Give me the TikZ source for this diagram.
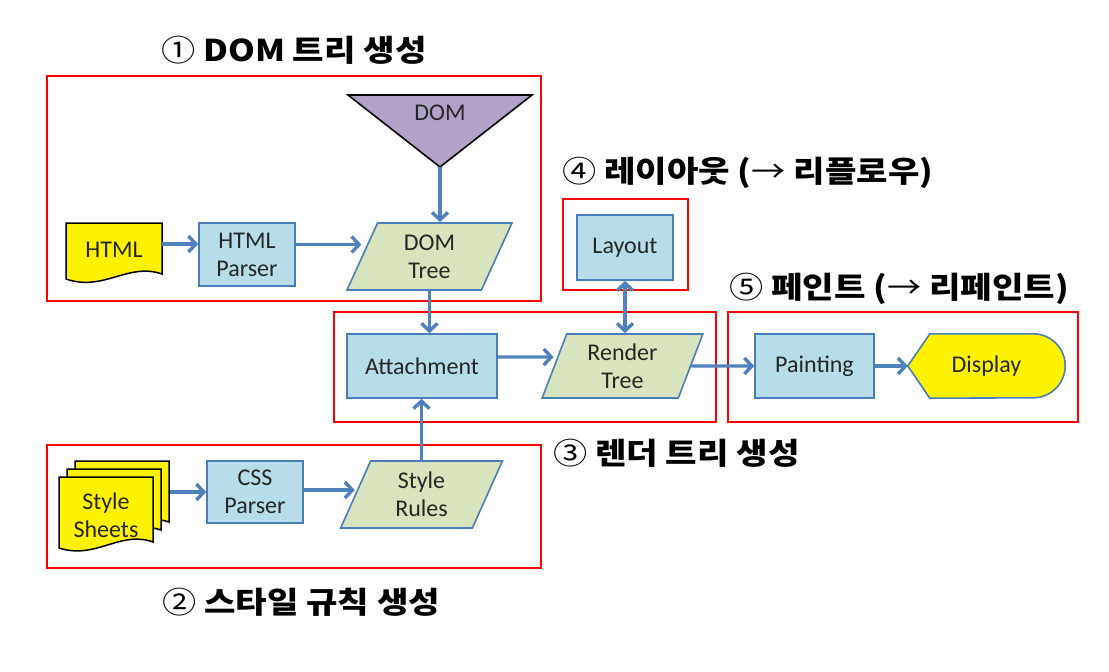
\documentclass[tikz,border=0pt]{standalone}
\usepackage{fontspec}
\setmainfont{Carlito}
\newfontfamily\krfont{Noto Sans CJK KR}[FakeStretch=1.14]
\usetikzlibrary{shapes.geometric,arrows.meta}

\definecolor{boxblue}{HTML}{4A7EBB}
\definecolor{procfill}{HTML}{B7DEE8}
\definecolor{datafill}{HTML}{D7E4BD}
\definecolor{domfill}{HTML}{B3A2C7}
\definecolor{arrowblue}{HTML}{4F81BD}
\definecolor{txtgray}{HTML}{262626}

\tikzset{
  every node/.style={text=txtgray, font=\fontsize{24}{28}\selectfont},
  procbox/.style={draw=boxblue, fill=procfill, line width=1.6pt, minimum width=96,
    minimum height=63, align=center, inner sep=0pt},
  databox/.style={trapezium, trapezium left angle=71, trapezium right angle=109,
    trapezium stretches=true, draw=boxblue, fill=datafill, line width=1.6pt,
    minimum width=165, minimum height=67, align=center, inner sep=0pt},
  docpage/.style={draw=black, fill=yellow, line width=1.5pt},
  flowtip/.style={Straight Barb[length=7.5pt,width=16pt]},
  flow/.style={draw=arrowblue, line width=3.4pt, -{Straight Barb[length=7.5pt,width=16pt]}},
  stagebox/.style={draw=red, line width=2pt},
  stagetitle/.style={font=\krfont\bfseries\fontsize{30}{34}\selectfont, text=black,
    anchor=west, inner sep=0pt}
}

\begin{document}
\begin{tikzpicture}[x=1pt, y=-1pt]
        \useasboundingbox (0,0) rectangle (1109,672);

        % Stage frames
        \draw[stagebox] (47,76) rectangle (541,301);
        \draw[stagebox] (47,445) rectangle (541,568);
        \draw[stagebox] (334,312) rectangle (716,422);
        \draw[stagebox] (563,199) rectangle (688,290);
        \draw[stagebox] (728,312) rectangle (1078,422);

        % Stage titles
        \node[stagetitle] (title1) at (161,50) {{\mdseries ①} DOM 트리 생성};
        \node[stagetitle] (title2) at (162,602) {{\mdseries ②} 스타일 규칙 생성};
        \node[stagetitle] (title3) at (553,453) {{\mdseries ③} 렌더 트리 생성};
        \node[stagetitle] (title4) at (562,173) {{\mdseries ④} 레이아웃 ({\mdseries →} 리플로우)};
        \node[stagetitle] (title5) at (729,289) {{\mdseries ⑤} 페인트 ({\mdseries →} 리페인트)};

        % DOM tree construction
        \filldraw[draw=black, fill=domfill, line width=1.6pt] (348,95) -- (532,95) -- (440,167) -- cycle;
        \node (dom) at (440,113) {DOM};
        \coordinate (domtip) at (440,167);
        \filldraw[docpage] (66,223) -- (162,223) -- (162,274)
            .. controls (128,262) and (104,292) .. (66,279) -- cycle;
        \node[minimum width=96, inner sep=0pt] (html) at (114,250) {HTML};
        \node[procbox] (htmlparser) at (247,254.5) {HTML\\Parser};
        \node[databox] (domtree) at (429.5,256.5) {DOM\\Tree};
        \draw[flow] ([yshift=6]html.east) -- ([yshift=6]html.east -| htmlparser.west);
        \draw[flow] ([yshift=10]htmlparser.east) -- ([yshift=10]htmlparser.east -| domtree.west);
        \draw[flow] (domtip) -- (domtip |- domtree.north);

        % Style rules
        \filldraw[docpage] (75,461) -- (169,461) -- (169,522)
            .. controls (136,511) and (112,537) .. (75,525) -- cycle;
        \filldraw[docpage] (67,469) -- (161,469) -- (161,530)
            .. controls (128,519) and (104,545) .. (67,533) -- cycle;
        \filldraw[docpage] (59,477) -- (153,477) -- (153,542)
            .. controls (120,530) and (96,560) .. (59,548) -- cycle;
        \node[align=center] (sheets) at (106,515) {Style\\Sheets};
        \coordinate (sheetsout) at (170,492);
        \node[procbox, minimum height=62] (cssparser) at (255,492) {CSS\\Parser};
        \node[databox, minimum width=163] (rules) at (421.5,494.5) {Style\\Rules};
        \draw[flow] (sheetsout) -- (sheetsout -| cssparser.west);
        \draw[flow] ([yshift=2]cssparser.east) -- ([yshift=2]cssparser.east -| rules.west);

        % Render tree
        \node[procbox, minimum width=150, minimum height=64] (attach) at (422,366) {Attachment};
        \node[databox, minimum width=161, minimum height=64] (render) at (622.5,366) {Render\\Tree};
        \draw[flow] (domtree.south) -- (domtree.south |- attach.north);
        \draw[flow] (rules.north) -- (rules.north |- attach.south);
        \draw[flow] ([yshift=9]attach.east) -- ([yshift=9]render.west);

        % Layout
        \node[procbox, minimum height=65] (layout) at (625,247.5) {Layout};
        \draw[flow, {Straight Barb[length=7.5pt,width=16pt]}-{Straight Barb[length=7.5pt,width=16pt]}]
            (layout.south) -- (layout.south |- render.north);

        % Painting
        \node[procbox, minimum width=119, minimum height=64] (paint) at (814.5,366) {Painting};
        \node[minimum width=157, minimum height=64, inner sep=0pt] (display) at (986.5,366) {};
        \filldraw[draw=boxblue, fill=yellow, line width=1.6pt] (display.west)
            -- ([xshift=22]display.north west) -- ([xshift=-32]display.north east)
            arc[start angle=-90, end angle=90, radius=32]
            -- ([xshift=22]display.south west) -- cycle;
        \node (displaytxt) at (display.center) {Display};
        \draw[flow] (render.east) -- (paint.west);
        \draw[flow] (paint.east) -- (display.west);
\end{tikzpicture}
\end{document}
